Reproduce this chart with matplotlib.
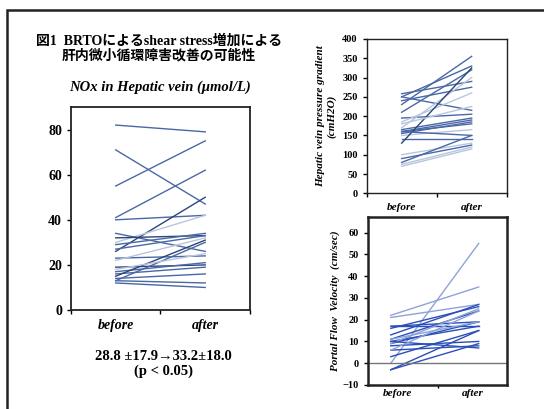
import matplotlib.pyplot as plt
from matplotlib.patches import Rectangle

plt.rcParams['font.family'] = ['Liberation Serif', 'Noto Sans CJK JP']

# NOx in hepatic vein (umol/L)
nox_before = [82, 71, 55, 41, 40, 26, 30, 34, 32, 29, 27, 23, 22, 19, 17, 16, 15, 14, 13, 12, 13, 18]
nox_after = [79, 47, 75, 62, 42, 50, 42, 26, 33, 34, 33, 24, 32, 20, 21, 19, 31, 16, 12, 10, 30, 25]
# HVPG (cmH2O)
hv_before = [258, 250, 250, 240, 230, 210, 195, 185, 170, 165, 160, 160, 155, 150, 140, 130, 100, 90, 80, 75, 70, 180, 160]
hv_after = [290, 330, 215, 275, 355, 320, 205, 260, 300, 195, 190, 180, 185, 165, 140, 325, 130, 125, 150, 120, 115, 225, 150]
# Portal flow velocity (cm/sec)
pfv_before = [0, 22, 21, 17, 17, 16, 13, 11, 10, 9, 9, 8, 6, 3, -3, -3, 10, 11, 6]
pfv_after = [55, 35, 27, 17, 19, 26, 27, 24, 17, 19, 25, 10, 8, 15, 15, 9, 7, 19, 24]

cats = ['before', 'after']

mid = '#4a68a6'
dark = '#2b4578'
light = '#b9c5de'
nox_colors = [mid, mid, mid, mid, mid, dark, light, mid, dark, mid, mid, mid, light, dark, mid, mid, dark, mid, mid, mid, mid, light]
hv_colors = [mid, mid, mid, mid, mid, mid, mid, light, light, mid, mid, mid, mid, light, mid, dark, light, mid, mid, light, light, light, mid]
pb = '#2a4fb8'
pl = '#8da2d8'
pfv_colors = [pl, pl, pl, pb, pb, pb, pb, pb, pb, pb, pl, pb, pb, pb, pb, pb, pb, pl, pl]

bold = dict(fontweight='bold')
ital = dict(fontweight='bold', fontstyle='italic')

fig = plt.figure(figsize=(5.44, 4.09), dpi=100)
fig.patches.append(Rectangle((7 / 544, -0.1), 1.2, 1 - 10 / 409 + 0.1, transform=fig.transFigure,
                             fill=False, lw=1.8, ec='#222222'))

fig.text(0.292, 0.900, '図1  BRTOによるshear stress増加による', ha='center', va='center', fontsize=10, **bold)
fig.text(0.292, 0.864, '肝内微小循環障害改善の可能性', ha='center', va='center', fontsize=10, **bold)
fig.text(0.295, 0.787, 'NOx in Hepatic vein (μmol/L)', ha='center', va='center', fontsize=10.5, **ital)
fig.text(0.3, 0.128, '28.8 ±17.9→33.2±18.0', ha='center', va='center', fontsize=10.5, **bold)
fig.text(0.3, 0.093, '(p < 0.05)', ha='center', va='center', fontsize=10.5, **bold)


def panel(rect, before, after, colors, xs, ylim, yticks, fs, lw_frame):
    ax = fig.add_axes(rect)
    for b, a, c in zip(before, after, colors):
        ax.plot(xs, [b, a], color=c, lw=1.0)
    ax.set_xlim(0, 2)
    ax.set_ylim(*ylim)
    ax.set_yticks(yticks)
    ax.set_xticks([0, 1, 2])
    ax.set_xticklabels([])
    for s in ax.spines.values():
        s.set_linewidth(lw_frame)
        s.set_color('#222222')
    ax.tick_params(axis='y', labelsize=fs, length=3, width=1)
    ax.tick_params(axis='x', length=3, width=1)
    for lab in ax.get_yticklabels():
        lab.set_fontweight('bold')
    return ax


ax1 = panel([0.1305, 0.242, 0.329, 0.4963], nox_before, nox_after, nox_colors,
            [0.5, 1.5], (0, 90), range(0, 81, 20), 10, 1.3)
for x, c in zip([0.5, 1.5], cats):
    ax1.text(x, -0.075, c, transform=ax1.get_xaxis_transform(), ha='center', va='center', fontsize=10, **ital)

ax2 = panel([0.674, 0.5274, 0.2574, 0.3773], hv_before, hv_after, hv_colors,
            [0.5, 1.5], (0, 400), range(0, 401, 50), 7.5, 1.0)
for x, c in zip([0.5, 1.5], cats):
    ax2.text(x, -0.095, c, transform=ax2.get_xaxis_transform(), ha='center', va='center', fontsize=8, **ital)
ax2.set_ylabel('Hepatic vein pressure gradient\n(cmH2O)', fontsize=8, labelpad=4, **ital)

ax3 = panel([0.676, 0.0587, 0.2566, 0.41], pfv_before, pfv_after, pfv_colors,
            [0.33, 1.59], (-10, 67), range(-10, 61, 10), 7.5, 1.8)
ax3.axhline(0, color='#777777', lw=1.0)
ax3.set_xticks([1])
ax3.tick_params(axis='x', length=2)
for x, c in zip([0.42, 1.5], cats):
    ax3.text(x, -0.05, c, transform=ax3.get_xaxis_transform(), ha='center', va='center', fontsize=8, **ital)
ax3.set_ylabel('Portal Flow  Velocity  (cm/sec)', fontsize=8, labelpad=2, **ital)

fig.savefig('out.png', dpi=100)
